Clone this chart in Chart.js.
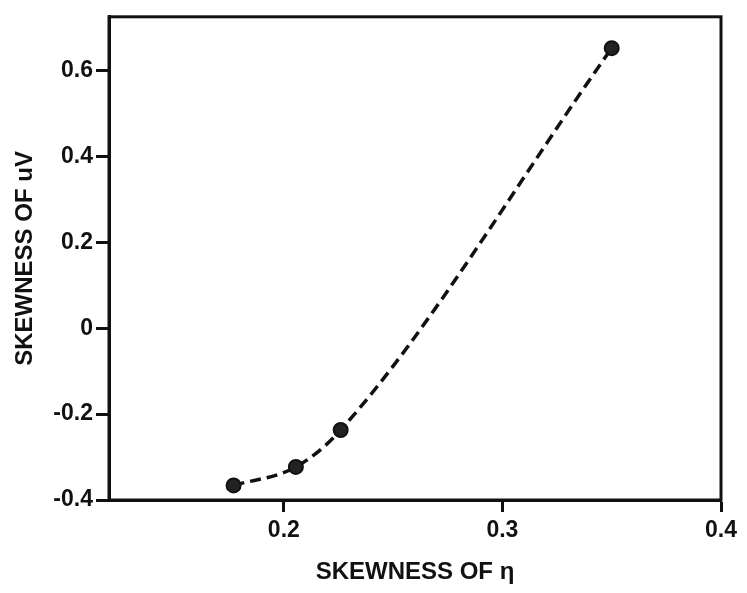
<!DOCTYPE html>
<html>
<head>
<meta charset="utf-8">
<script src="https://cdn.jsdelivr.net/npm/chart.js@4"></script>
<style>
  html, body { margin: 0; padding: 0; background: #fff; }
  #wrap { width: 747px; height: 593px; }
</style>
</head>
<body>
<div id="wrap"><canvas id="skewChart" width="747" height="593"></canvas></div>
<script>
// data
const etaSkew = [0.177, 0.2055, 0.226, 0.35];
const uvSkew = [-0.366, -0.323, -0.237, 0.652];
const xTicks = [0.2, 0.3, 0.4];
const yTicks = [-0.4, -0.2, 0, 0.2, 0.4, 0.6];

const ink = '#111';
const fontFam = '"Liberation Sans", Arial, sans-serif';

// frame round the plot area
const framePlugin = {
    id: 'frame',
    afterDraw(chart) {
        const a = chart.chartArea;
        const ctx = chart.ctx;
        ctx.save();
        ctx.strokeStyle = ink;
        ctx.lineWidth = 3;
        ctx.strokeRect(a.left, a.top, a.right - a.left, a.bottom - a.top);
        ctx.restore();
    }
};

const points = etaSkew.map((x, i) => ({ x: x, y: uvSkew[i] }));

const ctx = document.getElementById('skewChart').getContext('2d');

new Chart(ctx, {
    type: 'line',
    data: {
        datasets: [{
            data: points,
            borderColor: ink,
            borderWidth: 3.5,
            borderDash: [11, 6],
            cubicInterpolationMode: 'monotone',
            pointRadius: 7,
            pointBackgroundColor: '#222',
            pointBorderColor: ink,
            pointBorderWidth: 2,
            fill: false
        }]
    },
    options: {
        responsive: false,
        animation: false,
        layout: { padding: { top: 12, right: 26, left: 0, bottom: 0 } },
        plugins: {
            legend: { display: false },
            tooltip: { enabled: false }
        },
        scales: {
            x: {
                type: 'linear',
                min: 0.12,
                max: 0.4,
                afterBuildTicks: function (scale) {
                    scale.ticks = xTicks.map(v => ({ value: v }));
                },
                afterFit: function (scale) {
                    scale.height = 93;
                },
                grid: {
                    drawOnChartArea: false,
                    drawTicks: true,
                    tickLength: 12,
                    tickWidth: 3,
                    tickColor: ink
                },
                border: { display: true, color: ink, width: 3 },
                ticks: {
                    color: ink,
                    padding: 5,
                    maxRotation: 0,
                    font: { family: fontFam, size: 23, weight: 'bold' },
                    callback: v => String(v)
                },
                title: {
                    display: true,
                    text: 'SKEWNESS OF η',
                    color: ink,
                    padding: { top: 0, bottom: 6 },
                    font: { family: fontFam, size: 24, weight: 'bold' }
                }
            },
            y: {
                type: 'linear',
                min: -0.4,
                max: 0.725,
                afterBuildTicks: function (scale) {
                    scale.ticks = yTicks.map(v => ({ value: v }));
                },
                afterFit: function (scale) {
                    scale.width = 109;
                },
                grid: {
                    drawOnChartArea: false,
                    drawTicks: true,
                    tickLength: 13,
                    tickWidth: 3,
                    tickColor: ink
                },
                border: { display: true, color: ink, width: 3 },
                ticks: {
                    color: ink,
                    padding: 3,
                    font: { family: fontFam, size: 23, weight: 'bold' },
                    callback: v => String(v)
                },
                title: {
                    display: true,
                    text: 'SKEWNESS OF uV',
                    color: ink,
                    padding: { top: 11, bottom: 0 },
                    font: { family: fontFam, size: 24, weight: 'bold' }
                }
            }
        }
    },
    plugins: [framePlugin]
});
</script>
</body>
</html>
